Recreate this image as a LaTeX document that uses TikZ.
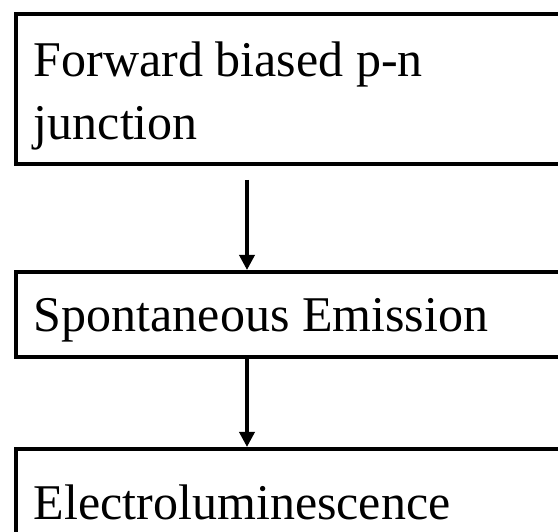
\documentclass[tikz,border=0pt]{standalone}
\usepackage{fontspec}
\setmainfont{Liberation Serif}
\usetikzlibrary{arrows.meta}

\begin{document}
\begin{tikzpicture}[x=1pt,y=1pt,
    stage/.style={draw, line width=4pt, rectangle, anchor=north west,
        minimum width=570pt, text width=534pt, align=flush left,
        inner xsep=18pt, text depth=0pt, font=\fontsize{50}{63}\selectfont},
    flow/.style={line width=3.5pt, -{Triangle[length=15pt,width=15pt]}}]
\useasboundingbox (0,0) rectangle (558,-532);
\clip (0,0) rectangle (558,-532);

\node[stage, minimum height=150pt, text height=34pt, text depth=58pt] (junction) at (14,-12) {Forward biased p-n\\junction};
\node[stage, minimum height=85pt] (emission) at (14,-270) {Spontaneous Emission};
\node[stage, minimum height=106pt] (lumin) at (14,-447) {Electroluminescence};

\draw[flow, shorten <=14pt] ([xshift=233pt]junction.south west) -- ([xshift=233pt]emission.north west);
\draw[flow] ([xshift=233pt]emission.south west) -- ([xshift=233pt]lumin.north west);
\end{tikzpicture}
\end{document}
